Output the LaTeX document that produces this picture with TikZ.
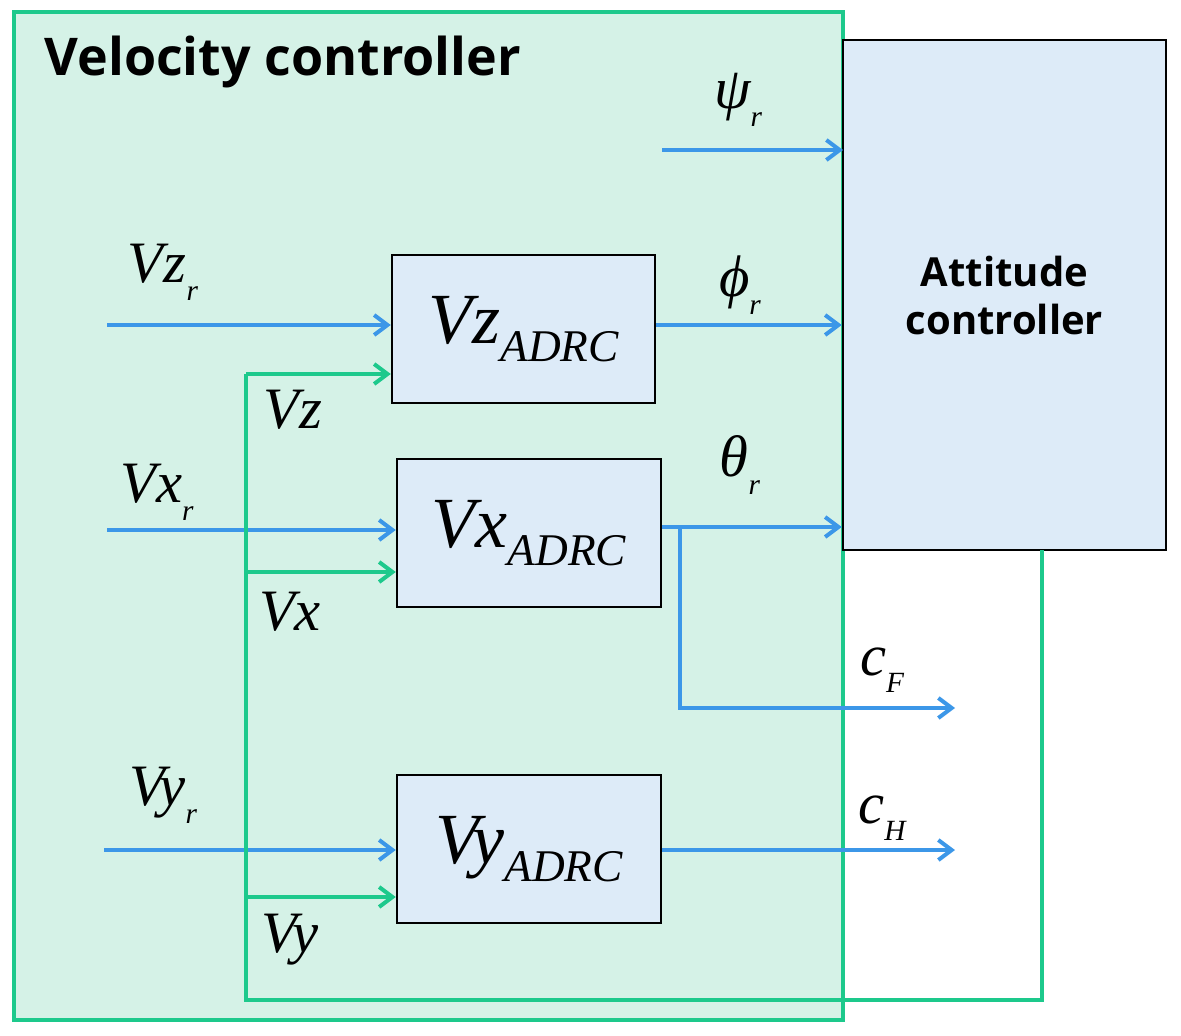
\documentclass[tikz,border=0pt]{standalone}
\usepackage{fontspec}
\setmainfont{Liberation Serif}
\newfontfamily\tser{Liberation Serif}
\newfontfamily\tsans{Open Sans}
\usetikzlibrary{arrows.meta}
\definecolor{mint}{HTML}{D5F2E7}
\definecolor{gline}{HTML}{1DC98C}
\definecolor{bfill}{HTML}{DDEBF8}
\definecolor{barrow}{HTML}{3C97E8}
\newcommand{\lsub}[2]{{\tser\itshape #1}\raisebox{-0.3em}{\fontsize{22}{22}\selectfont\tser\itshape #2}}
\newcommand{\bsub}[2]{{\tser\itshape #1}\raisebox{-0.25em}{\fontsize{34}{34}\selectfont\tser\itshape #2}}
\begin{document}
\begin{tikzpicture}[x=0.75pt,y=-0.75pt,
 box/.style={draw=black,line width=1.8pt,fill=bfill,inner sep=0},
 blu/.style={draw=barrow,line width=3pt,-{Straight Barb[length=10pt,width=15pt,line width=3pt]}},
 grn/.style={draw=gline,line width=3pt},
 garr/.style={grn,-{Straight Barb[length=10pt,width=15pt,line width=3pt]}},
 lab/.style={font=\fontsize{44}{44}\selectfont\tser\itshape,inner sep=0},
 blab/.style={font=\fontsize{54}{54}\selectfont,inner sep=0}]
\useasboundingbox (0,0) rectangle (1181,1035);
\draw[draw=gline,line width=2.5pt,fill=mint] (14,12) rectangle (843,1020);
\node[anchor=west,font=\tsans\bfseries\fontsize{39}{39}\selectfont] (title) at (40,62) {Velocity controller};
\node[box,minimum width=323*0.75pt,minimum height=510*0.75pt,font=\tsans\bfseries\fontsize{30}{36}\selectfont,align=center] (att) at (1004.5,295) {Attitude\\controller};
\node[box,minimum width=263*0.75pt,minimum height=148*0.75pt] (vz) at (523.5,329) {};
\node[box,minimum width=264*0.75pt,minimum height=148*0.75pt] (vx) at (529,533) {};
\node[box,minimum width=264*0.75pt,minimum height=148*0.75pt] (vy) at (529,849) {};
\node[blab] at (vz.center) {\bsub{Vz}{ADRC}};
\node[blab] at (vx.center) {\bsub{Vx}{ADRC}};
\node[blab] at (vy.center) {\bsub{Vy}{ADRC}};
% inputs
\coordinate (psiin) at (662,150); \coordinate (psiout) at (843,150);
\draw[blu] (psiin) -- (psiout);
\node[lab] at (738,100) {\lsub{ψ}{r}};
\coordinate (vzr) at (107,325);
\draw[blu] (vzr) -- (vz.west |- vzr);
\node[lab] at (163,272) {\lsub{Vz}{r}};
\draw[blu] (vz.east |- vzr) -- (att.west |- vzr);
\node[lab] at (740,285) {\lsub{ϕ}{r}};
\coordinate (vxr) at (107,530);
\draw[blu] (vxr) -- (vx.west |- vxr);
\node[lab] at (157,492) {\lsub{Vx}{r}};
\coordinate (th) at (680,527);
\draw[blu] (vx.east |- th) -- (att.west |- th);
\node[lab] at (740,465) {\lsub{θ}{r}};
\coordinate (cf) at (955,708);
\draw[blu] (th) |- (cf);
\node[lab] at (882,670) {\lsub{c}{F}};
\coordinate (vyr) at (104,850);
\draw[blu] (vyr) -- (vy.west |- vyr);
\node[lab] at (163,795) {\lsub{Vy}{r}};
\coordinate (ch) at (955,850);
\draw[blu] (vy.east |- ch) -- (ch);
\node[lab] at (882,818) {\lsub{c}{H}};
% feedback
\coordinate (fb) at (1042,550);
\coordinate (fl) at (246,1000);
\draw[grn] (fb) |- (fl) -- (246,374);
\draw[garr] (246,374) -- (vz.west |- 0,374);
\draw[garr] (246,572) -- (vx.west |- 0,572);
\draw[garr] (246,897) -- (vy.west |- 0,897);
\node[lab] at (293,410) {Vz};
\node[lab] at (290,612) {Vx};
\node[lab] at (290,940) {Vy};
\end{tikzpicture}
\end{document}
